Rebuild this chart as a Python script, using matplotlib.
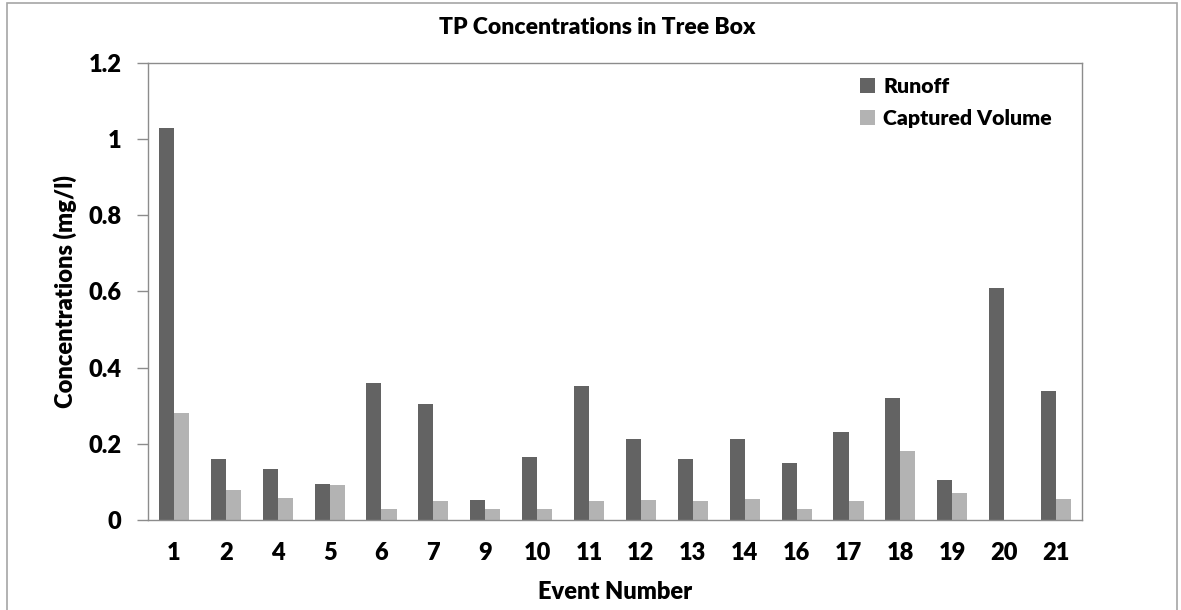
#!/usr/bin/env python3
"""TP concentrations in tree box: runoff vs captured volume per event."""
import numpy as np
import matplotlib

matplotlib.use("Agg")
import matplotlib.pyplot as plt
from matplotlib.patches import Rectangle
from matplotlib.ticker import FuncFormatter, MultipleLocator

EVENTS = ["1", "2", "4", "5", "6", "7", "9", "10", "11", "12",
          "13", "14", "16", "17", "18", "19", "20", "21"]
RUNOFF = [1.028, 0.159, 0.135, 0.094, 0.359, 0.304, 0.052, 0.165, 0.351, 0.213,
          0.159, 0.213, 0.150, 0.230, 0.321, 0.105, 0.609, 0.339]
CAPTURED = [0.281, 0.080, 0.059, 0.091, 0.029, 0.049, 0.029, 0.029, 0.049, 0.052,
            0.051, 0.054, 0.029, 0.051, 0.181, 0.071, 0.0, 0.054]

C_RUN, C_CAP = "#636363", "#b3b3b3"
SPINE = "#8c8c8c"

plt.rcParams["font.family"] = ["Lato", "DejaVu Sans"]
plt.rcParams["font.weight"] = "bold"

fig = plt.figure(figsize=(11.81, 6.10), dpi=100)
ax = fig.add_axes([0.1253, 0.1475, 0.7909, 0.7497])

# outer chart border
fig.patches.append(Rectangle((7 / 1181, -0.02), 1170 / 1181, 1.02 - 2.5 / 610,
                             transform=fig.transFigure, fill=False,
                             edgecolor="#a6a6a6", lw=1.2))

x = np.arange(len(EVENTS))
w = 0.29
ax.bar(x - w / 2, RUNOFF, w, color=C_RUN, label="Runoff", zorder=2)
ax.bar(x + w / 2, CAPTURED, w, color=C_CAP, label="Captured Volume", zorder=2)

ax.set_xlim(-0.5, len(EVENTS) - 0.5)
ax.set_ylim(0, 1.2)
ax.yaxis.set_major_locator(MultipleLocator(0.2))
ax.yaxis.set_major_formatter(FuncFormatter(lambda v, _: f"{v:g}"))
ax.set_xticks(x)
ax.set_xticklabels(EVENTS)

for s in ax.spines.values():
    s.set_color(SPINE)
    s.set_linewidth(1.0)
ax.tick_params(axis="y", direction="out", length=8, width=1, color=SPINE,
               labelsize=17, pad=11)
ax.tick_params(axis="x", length=0, labelsize=17, pad=16)
for lab in ax.get_xticklabels() + ax.get_yticklabels():
    lab.set_fontweight("heavy")

ax.set_xlabel("Event Number", fontsize=17, fontweight="heavy", labelpad=12)
ax.set_ylabel("Concentrations (mg/l)", fontsize=17, fontweight="heavy", labelpad=8)
fig.text(0.506, 1 - 27 / 610, "TP Concentrations in Tree Box",
         ha="center", va="center", fontsize=16.5, fontweight="heavy")

ax.legend(loc="upper right", bbox_to_anchor=(0.988, 1.01), frameon=False,
          prop=dict(size=15.3, weight="heavy"), handlelength=0.7,
          handleheight=0.7, handletextpad=0.4, labelspacing=0.6)

fig.savefig("out.png", dpi=100)
